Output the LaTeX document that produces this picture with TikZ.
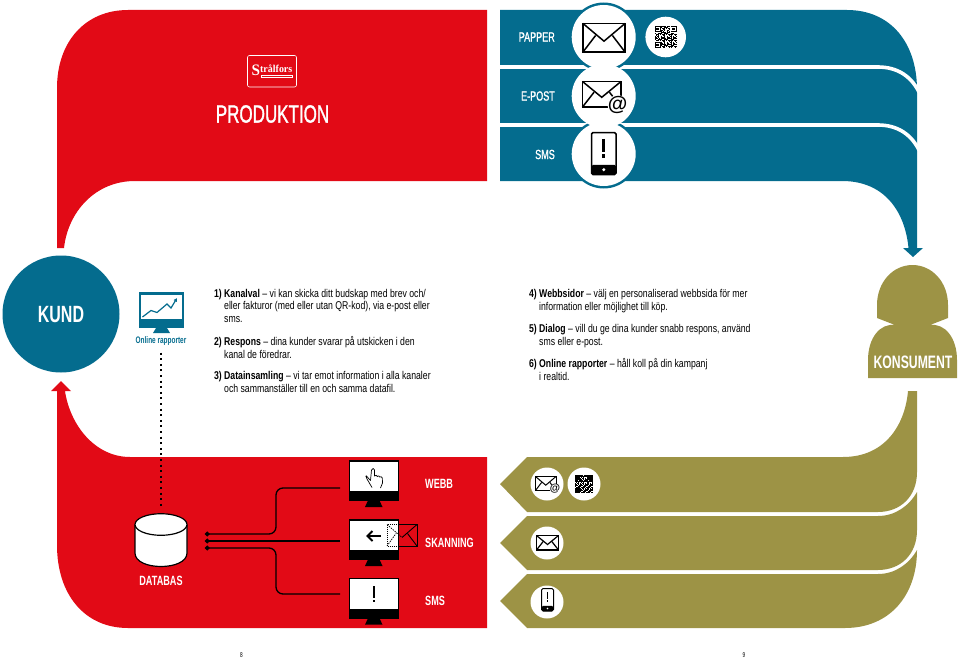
\documentclass[tikz,border=0pt]{standalone}
\usepackage{fontspec}
\setmainfont{Liberation Sans}
\newfontfamily\cond[FakeStretch=0.68]{Liberation Sans}
\newfontfamily\condm[FakeStretch=0.68,FakeBold=1.2]{Liberation Sans}
\newfontfamily\bodyf[FakeStretch=0.77]{Liberation Sans}
\newfontfamily\logof[FakeStretch=0.95]{Liberation Serif}
\usetikzlibrary{arrows.meta}
\definecolor{kred}{HTML}{E20A16}
\definecolor{kblue}{HTML}{046C8E}
\definecolor{kolive}{HTML}{9D9345}
\newcommand\iconEnv[5]{% x0 y0 x1 y1 lw
  \pgfmathsetmacro\exm{(#1+#3)/2}\pgfmathsetmacro\ew{#3-#1}\pgfmathsetmacro\eh{#4-#2}
  \fill[white] (#1,#2) rectangle (#3,#4);
  \draw[black,line width=#5,line join=miter] (#1,#2) rectangle (#3,#4);
  \draw[black,line width=#5,line join=miter] (#1,#2) -- (\exm,#2+0.62*\eh) -- (#3,#2);
  \draw[black,line width=#5] (#1,#4) -- (\exm-0.2*\ew,#2+0.42*\eh);
  \draw[black,line width=#5] (#3,#4) -- (\exm+0.2*\ew,#2+0.42*\eh);
}
\newcommand\iconAt[4]{% cx cy r fontsize
  \fill[white] (#1,#2) circle[radius=#3];
  \node[inner sep=0pt,text=black,font=\fontsize{#4}{#4}\selectfont\bfseries] at (#1,#2) {@};
}
\newcommand\iconPhone[5]{% x0 y0 x1 y1 lw
  \pgfmathsetmacro\pxm{(#1+#3)/2}\pgfmathsetmacro\ph{#4-#2}
  \draw[black,fill=white,line width=#5,rounded corners=1.5] (#1,#2) rectangle (#3,#4);
  \fill[black,rounded corners=1.5] (#1,#2+0.77*\ph) rectangle (#3,#4);
  \fill[white] (\pxm,#2+0.885*\ph) circle[radius=0.04*\ph];
  \draw[black,line width=0.08*\ph] (\pxm,#2+0.15*\ph) -- (\pxm,#2+0.46*\ph);
  \fill[black] (\pxm-0.04*\ph,#2+0.52*\ph) rectangle (\pxm+0.04*\ph,#2+0.6*\ph);
}
\newcommand\iconQR[3]{% cx cy size
  \begin{scope}[shift={(#1-#3/2,#2-#3/2)},x=#3pt/25,y=-#3pt/25]
    \foreach \i in {0,...,24}{\foreach \j in {0,...,24}{
      \pgfmathtruncatemacro\v{mod(\i*\i*3+\j*\j*5+\i*\j*11+5*\i+3*\j,7)}
      \ifnum\v<3 \fill[black] (\i,\j) rectangle (\i+1.02,\j+1.02);\fi
    }}
    \foreach \a/\b in {0/0,18/0,0/18}{
      \fill[white] (\a-.5,\b-.5) rectangle (\a+7.5,\b+7.5);
      \fill[black] (\a,\b) rectangle (\a+7,\b+7);
      \fill[white] (\a+1,\b+1) rectangle (\a+6,\b+6);
      \fill[black] (\a+2,\b+2) rectangle (\a+5,\b+5);
    }
  \end{scope}
}
\newcommand\iconMon[2]{% name, top y
  \node[draw=black,fill=white,line width=1.2pt,inner sep=0pt,minimum width=48.5pt,minimum height=30.5pt] (#1) at (374,#2+15.3) {};
  \fill[black] (349.2,#2+30.5) rectangle (399.2,#2+39.8);
  \fill[black] (368,#2+39.5) -- (379.5,#2+39.5) -- (382.5,#2+46) -- (365,#2+46) -- cycle;
}
\tikzset{
  biglabel/.style={text=white,inner sep=0pt,font=\cond\fontsize{23.5}{24}\selectfont\bfseries},
  bandlabel/.style={text=white,inner sep=0pt,font=\condm\fontsize{13.3}{13.3}\selectfont},
  redlabel/.style={text=white,inner sep=0pt,anchor=west,font=\cond\fontsize{13.4}{13.4}\selectfont\bfseries},
  para/.style={text=black,inner sep=0pt,anchor=base west,align=left,font=\bodyf\fontsize{11.3}{12.6}\selectfont},
  whitedisc/.style={fill=white},
  gapline/.style={white,line width=3.6pt},
  dbline/.style={black,line width=1.3pt,rounded corners=7pt,{Circle[length=4.5pt]}-},
}
\begin{document}
\begin{tikzpicture}[x=1pt,y=-1pt]
\useasboundingbox (0,0) rectangle (960,658);
% red top
\fill[kred] (487,10) -- (128,10) .. controls (85,10) and (57,42) .. (57,88) -- (57,248) -- (64,248)
  .. controls (68,212) and (95,181) .. (135,181) -- (487,181) -- cycle;
\draw[white,line width=0.6pt,rounded corners=2pt] (247.5,55.5) rectangle (296.5,87);
\node[text=white,inner sep=0pt,font=\logof\fontsize{10.5}{10.5}\selectfont\bfseries] (logo) at (272,70) {\raisebox{-2.5pt}{\fontsize{16}{16}\selectfont S}trålfors};
\draw[white,line width=0.5pt] (261,75.5) rectangle (292,77.5);
\node[biglabel,font=\condm\fontsize{25}{25}\selectfont] (prod) at (272.5,114) {PRODUKTION};
% blue
\fill[kblue] (500,10) -- (847,10) .. controls (890,10) and (917,42) .. (917,90) -- (917,248) -- (923,248)
  -- (913,257) -- (903,248) -- (908.5,248) .. controls (905,212) and (885,181) .. (842,181) -- (500,181) -- cycle;
\draw[gapline] (500,67) -- (878,67) .. controls (897,67) and (911,76) .. (919,92);
\draw[gapline] (500,125) -- (878,125) .. controls (897,125) and (911,134) .. (919,150);
\fill[kblue] (603.7,37) circle[radius=34.5];
\fill[kblue] (603.7,154) circle[radius=34.5];
\fill[whitedisc] (603.7,37) circle[radius=32];
\fill[whitedisc] (603.7,96) circle[radius=32];
\fill[whitedisc] (603.7,154) circle[radius=32];
\fill[whitedisc] (665.7,37) circle[radius=20.3];
\node[bandlabel,anchor=east] (papper) at (555,37) {PAPPER};
\node[bandlabel,anchor=east] (epost) at (555,96) {E-POST};
\node[bandlabel,anchor=east] (smsa) at (555,154.5) {SMS};
\iconEnv{583}{23.5}{625}{52}{1.5}
\iconQR{665.7}{37}{22}
\iconEnv{582.5}{81.5}{621}{107}{1.5}
\iconAt{617.5}{105}{10}{20}
\iconPhone{591.5}{132.5}{616}{174.5}{1.5}
% olive
\fill[kolive] (527,457) -- (500,484) -- (527,512) -- (878,512) .. controls (900,512) and (917,497) .. (917,472)
  -- (917,391) -- (908,391) .. controls (905,425) and (885,457) .. (843,457) -- cycle;
\fill[kolive] (527,516) -- (500,543) -- (527,570) -- (878,570) .. controls (900,570) and (917,555) .. (917,530)
  -- (917,492) .. controls (909,506) and (895,516) .. (878,516) -- cycle;
\fill[kolive] (527,574) -- (500,601) -- (527,628) -- (845,628) .. controls (890,628) and (917,595) .. (917,550)
  .. controls (909,564) and (895,574) .. (878,574) -- cycle;
\fill[whitedisc] (547,484) circle[radius=16.5];
\fill[whitedisc] (584,484) circle[radius=16.5];
\fill[whitedisc] (547,543) circle[radius=16.5];
\fill[whitedisc] (547,602) circle[radius=16.5];
\iconEnv{535.5}{476.5}{556}{490.5}{1}
\iconAt{555}{489}{5.5}{10.5}
\iconQR{584}{484}{18}
\iconEnv{536.5}{535.5}{558.5}{550}{1.2}
\iconPhone{541.5}{588.5}{553.5}{611}{1}
% konsument
\fill[kolive] (877,318) -- (877,305) .. controls (877,282) and (893,265) .. (912.5,265)
  .. controls (932,265) and (948,282) .. (948,305) -- (948,318) -- (930,325)
  .. controls (945,323) and (957,338) .. (957,360) -- (957,378) -- (868,378) -- (868,360)
  .. controls (868,338) and (880,323) .. (895,325) -- cycle;
\node[biglabel,font=\cond\fontsize{18}{18}\selectfont\bfseries] (konsument) at (913,362) {KONSUMENT};
% red bottom
\fill[kred] (487,457) -- (130,457) .. controls (95,457) and (70,425) .. (65,391) -- (71,391) -- (61,381)
  -- (51,391) -- (57,391) -- (57,545) .. controls (57,595) and (85,628) .. (128,628) -- (487,628) -- cycle;
% kund
\node[circle,fill=kblue,minimum size=117pt,inner sep=0pt] (kundc) at (61,314) {};
\node[biglabel] (kund) at (61,315) {KUND};
% online monitor
\fill[kblue] (139,292) rectangle (184,328);
\fill[white] (141,294.5) rectangle (182,319);
\fill[kblue] (156,328) -- (167,328) -- (170,333) -- (153,333) -- cycle;
\draw[kblue,line width=1.2pt,-{Latex[length=3.5pt,width=4pt]}] (142.5,317) -- (151,310.5) -- (157,312.5) -- (167,304) -- (171,308) -- (177,298);
\node[text=kblue,inner sep=0pt,font=\cond\fontsize{9.5}{9.5}\selectfont\bfseries] (online) at (161,341) {Online rapporter};
% database
\coordinate (dbtop) at (161,508);
\draw[black,fill=white,line width=1.2pt] (135,524.5) -- (135,553) .. controls (135,571) and (187,571) .. (187,553) -- (187,524.5);
\draw[black,fill=white,line width=1.2pt] (161,524.5) ellipse[x radius=26,y radius=10.8];
\draw[black,line width=1.7pt,dash pattern=on 2pt off 3.6pt] (online.south) ++(0,7) -- (dbtop);
\node[redlabel,anchor=center] (db) at (161,581) {DATABAS};
% monitors
\iconMon{mona}{461}
\iconMon{monb}{520}
\iconMon{monc}{578.7}
\coordinate (sa) at (205,534); \coordinate (sb) at (205,541); \coordinate (sc) at (205,548);
\coordinate (ea) at (340,488); \coordinate (eb) at (340,541); \coordinate (ec) at (340,594);
\draw[dbline] (sa) -- (276,534) -- (276,488) -- (ea);
\draw[dbline] (sb) -- (eb);
\draw[dbline] (sc) -- (276,548) -- (276,594) -- (ec);
% hand
\draw[black,line width=0.7pt,line join=round,fill=white] (366,475.5) -- (370.5,480.5) -- (371.5,470)
  .. controls (372,468) and (374.5,468) .. (374.5,470) -- (374.5,476) .. controls (375.5,475) and (377,475) .. (377.2,476.5)
  .. controls (378,475.5) and (379.5,475.5) .. (379.7,477) .. controls (380.5,476.5) and (382,476.5) .. (382.3,478)
  -- (382.5,483) -- (380.5,488) (372,487.5) -- (367,479) -- (365.8,476);
% arrow
\draw[black,line width=1.9pt] (367.5,536) -- (381,536);
\draw[black,line width=1.9pt] (372.5,531) -- (367.5,536) -- (372.5,541);
% scan envelope
\draw[black,line width=0.9pt] (399,524.5) -- (417,524.5) -- (417,546) -- (399,546);
\draw[black,line width=0.9pt] (417,524.5) -- (402,537.5);
\draw[black,line width=0.9pt] (417,546) -- (407.5,533.5);
\draw[black,line width=0.8pt,dash pattern=on 1pt off 1pt] (399,524.5) -- (387,524.5) -- (387,546) -- (399,546);
\draw[black,line width=0.7pt,dash pattern=on 1.5pt off 1pt] (387,524.5) -- (402,537.5) (387,546) -- (396,533.5);
% exclamation
\draw[black,line width=2.1pt] (374,586) -- (374,597.5);
\fill[black] (372.9,599.7) rectangle (375.1,602);
% labels
\node[redlabel] (webb) at (425,484) {WEBB};
\node[redlabel] (skanning) at (425,543) {SKANNING};
\node[redlabel] (smsb) at (425,601) {SMS};
% paragraphs
\node[para] (p1) at (224,322.5) {\llap{\textbf{1) }}\textbf{Kanalval} – vi kan skicka ditt budskap med brev och/\\eller fakturor (med eller utan QR-kod), via e-post eller\\sms.};
\node[para] (p2) at (224,358) {\llap{\textbf{2) }}\textbf{Respons} – dina kunder svarar på utskicken i den\\kanal de föredrar.};
\node[para] (p3) at (224,392) {\llap{\textbf{3) }}\textbf{Datainsamling} – vi tar emot information i alla kanaler\\och sammanställer till en och samma datafil.};
\node[para] (p4) at (539,310) {\llap{\textbf{4) }}\textbf{Webbsidor} – välj en personaliserad webbsida för mer\\information eller möjlighet till köp.};
\node[para] (p5) at (539,345) {\llap{\textbf{5) }}\textbf{Dialog} – vill du ge dina kunder snabb respons, använd\\sms eller e-post.};
\node[para] (p6) at (539,380) {\llap{\textbf{6) }}\textbf{Online rapporter} – håll koll på din kampanj\\i realtid.};
% page numbers
\node[inner sep=0pt,font=\cond\fontsize{7}{7}\selectfont] (pg8) at (241.5,655) {8};
\node[inner sep=0pt,font=\cond\fontsize{7}{7}\selectfont] (pg9) at (744,655) {9};
\end{tikzpicture}
\end{document}
